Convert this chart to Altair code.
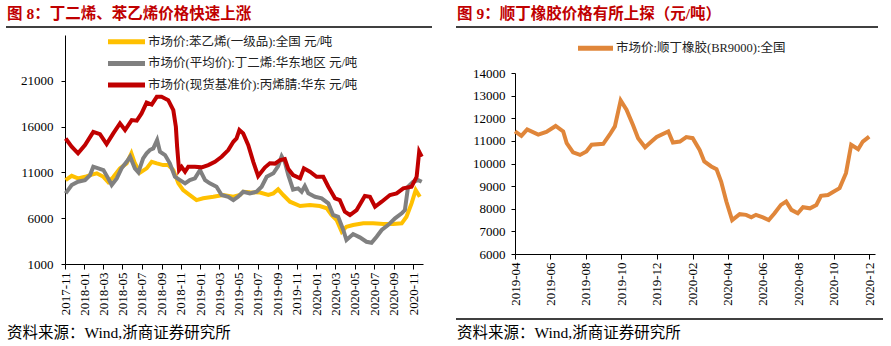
import altair as alt
import pandas as pd

# ---------------- data: left panel (元/吨) ----------------
styrene_dates = ["2017-11-03", "2017-11-22", "2017-12-12", "2018-01-03", "2018-01-19", "2018-02-09",
                 "2018-03-02", "2018-03-17", "2018-04-02", "2018-04-23", "2018-05-14", "2018-05-29",
                 "2018-06-09", "2018-06-25", "2018-07-16", "2018-08-01", "2018-08-17", "2018-09-06",
                 "2018-09-22", "2018-10-08", "2018-10-24", "2018-11-08", "2018-11-29", "2018-12-20",
                 "2019-01-10", "2019-02-11", "2019-03-14", "2019-04-15", "2019-05-06", "2019-05-16",
                 "2019-06-06", "2019-07-08", "2019-08-03", "2019-08-19", "2019-09-03", "2019-09-19",
                 "2019-10-10", "2019-11-11", "2019-12-12", "2020-01-12", "2020-02-03", "2020-02-18",
                 "2020-03-05", "2020-03-21", "2020-04-05", "2020-04-26", "2020-05-28", "2020-06-28",
                 "2020-07-30", "2020-08-30", "2020-09-26", "2020-10-11", "2020-10-27", "2020-11-09",
                 "2020-11-22"]
styrene_vals = [10160, 10630, 10350, 10520, 10710, 10900,
                10520, 9950, 10490, 11440, 11990, 13080,
                11990, 10980, 11440, 12160, 11990, 11800,
                11800, 11255, 9800, 9070, 8530, 7980,
                8170, 8340, 8530, 8340, 8530, 8890,
                8840, 8800, 8530, 8710, 9150, 8530,
                7800, 7330, 7440, 7330, 7080, 6350,
                5800, 4520, 5070, 5250, 5440, 5440,
                5360, 5360, 5440, 6160, 7620, 9070,
                8340]

butadiene_dates = ["2017-11-03", "2017-11-22", "2017-12-12", "2018-01-03", "2018-01-19", "2018-01-29",
                   "2018-02-14", "2018-03-02", "2018-03-17", "2018-03-28", "2018-04-13", "2018-04-28",
                   "2018-05-14", "2018-05-25", "2018-06-09", "2018-06-20", "2018-07-05", "2018-07-16",
                   "2018-07-26", "2018-08-06", "2018-08-18", "2018-08-27", "2018-09-12", "2018-09-27",
                   "2018-10-13", "2018-10-29", "2018-11-14", "2018-11-29", "2018-12-15", "2018-12-31",
                   "2019-01-16", "2019-01-31", "2019-02-21", "2019-03-09", "2019-03-30", "2019-04-15",
                   "2019-04-30", "2019-05-16", "2019-06-06", "2019-06-27", "2019-07-13", "2019-07-29",
                   "2019-08-19", "2019-09-03", "2019-09-14", "2019-09-24", "2019-10-05", "2019-10-20",
                   "2019-11-05", "2019-11-16", "2019-11-26", "2019-12-07", "2019-12-28", "2020-01-18",
                   "2020-02-08", "2020-02-23", "2020-03-10", "2020-03-26", "2020-04-05", "2020-04-26",
                   "2020-05-17", "2020-06-07", "2020-06-23", "2020-07-09", "2020-07-25", "2020-08-14",
                   "2020-09-05", "2020-09-26", "2020-10-06", "2020-10-16", "2020-11-01", "2020-11-17",
                   "2020-11-28"]
butadiene_vals = [8710, 9620, 9980, 10160, 10710, 11620,
                  11440, 11255, 10350, 9620, 10350, 11440,
                  12160, 12710, 11440, 11000, 12530, 13080,
                  13440, 13620, 14530, 13250, 12890, 11990,
                  10520, 10160, 9800, 10160, 10350, 11255,
                  10160, 9800, 9430, 8530, 8340, 7980,
                  8340, 8890, 8710, 8890, 9430, 10520,
                  10900, 11690, 12750, 12130, 10710, 9130,
                  9260, 8890, 9510, 8710, 8340, 8170,
                  7620, 6350, 6160, 4710, 3620, 4270,
                  3910, 3430, 3320, 3980, 4710, 5250,
                  5990, 6530, 6890, 9430, 9980, 10160,
                  9980]

acn_dates = ["2017-11-03", "2017-11-22", "2017-12-12", "2018-01-03", "2018-01-29", "2018-02-19",
             "2018-03-12", "2018-04-02", "2018-04-23", "2018-05-09", "2018-05-30", "2018-06-15",
             "2018-06-30", "2018-07-16", "2018-08-01", "2018-08-17", "2018-09-01", "2018-09-22",
             "2018-10-08", "2018-10-16", "2018-10-20", "2018-10-26", "2018-11-03", "2018-11-14",
             "2018-11-24", "2018-12-15", "2019-01-05", "2019-01-26", "2019-02-16", "2019-03-09",
             "2019-03-30", "2019-04-15", "2019-04-25", "2019-05-04", "2019-05-16", "2019-06-01",
             "2019-06-17", "2019-07-02", "2019-07-23", "2019-08-08", "2019-08-24", "2019-09-09",
             "2019-09-24", "2019-10-05", "2019-10-20", "2019-11-11", "2019-11-23", "2019-12-12",
             "2020-01-02", "2020-01-23", "2020-02-08", "2020-02-29", "2020-03-15", "2020-03-31",
             "2020-04-16", "2020-05-07", "2020-06-02", "2020-06-18", "2020-07-04", "2020-07-25",
             "2020-08-20", "2020-09-10", "2020-10-01", "2020-10-27", "2020-11-12", "2020-11-20",
             "2020-11-28"]
acn_vals = [14700, 13800, 13080, 13980, 15430, 15180,
            14090, 15260, 16350, 15620, 16710, 16650,
            17440, 18620, 18400, 19250, 19250, 18890,
            17800, 15980, 13800, 11255, 11615, 11070,
            11615, 11615, 11550, 11800, 12160, 12710,
            13440, 14340, 14700, 15620, 15260, 13980,
            12130, 10600, 11530, 11990, 11960, 12350,
            12460, 11360, 10710, 10350, 11440, 11070,
            10520, 10520, 9430, 8170, 7980, 6710,
            6350, 6890, 8420, 8340, 7250, 7800,
            8530, 8710, 9260, 9430, 10520, 13250,
            12710]

left_names = ["市场价:苯乙烯(一级品):全国 元/吨",
              "市场价(平均价):丁二烯:华东地区 元/吨",
              "市场价(现货基准价):丙烯腈:华东 元/吨"]
left_colors = ["#FFC000", "#808080", "#C00000"]
left_y_ticks = [1000, 6000, 11000, 16000, 21000]
left_x_ticks = ["2017-11", "2018-01", "2018-03", "2018-05", "2018-07", "2018-09", "2018-11",
                "2019-01", "2019-03", "2019-05", "2019-07", "2019-09", "2019-11",
                "2020-01", "2020-03", "2020-05", "2020-07", "2020-09", "2020-11"]

# ---------------- data: right panel (元/吨) ----------------
br_dates = ["2019-04-01", "2019-04-12", "2019-04-22", "2019-05-11", "2019-05-25", "2019-06-10",
            "2019-06-23", "2019-06-29", "2019-07-10", "2019-07-22", "2019-08-02", "2019-08-11",
            "2019-08-31", "2019-09-11", "2019-09-20", "2019-09-30", "2019-10-10", "2019-10-21",
            "2019-10-30", "2019-11-11", "2019-11-22", "2019-12-01", "2019-12-21", "2019-12-29",
            "2020-01-10", "2020-01-21", "2020-02-01", "2020-02-13", "2020-02-21", "2020-03-04",
            "2020-03-13", "2020-03-21", "2020-03-30", "2020-04-09", "2020-04-22", "2020-05-03",
            "2020-05-12", "2020-05-20", "2020-06-01", "2020-06-11", "2020-06-21", "2020-07-02",
            "2020-07-11", "2020-07-20", "2020-07-31", "2020-08-09", "2020-08-21", "2020-09-01",
            "2020-09-09", "2020-09-21", "2020-09-29", "2020-10-11", "2020-10-22", "2020-10-31",
            "2020-11-12", "2020-11-20", "2020-12-01"]
br_vals = [11420, 11220, 11510, 11280, 11400, 11660,
           11420, 10900, 10490, 10380, 10530, 10830,
           10870, 11270, 11640, 12790, 12380, 11710,
           11120, 10720, 10970, 11170, 11420, 10930,
           10970, 11170, 11120, 10600, 10090, 9870,
           9750, 9200, 8320, 7500, 7760, 7730,
           7620, 7730, 7620, 7500, 7800, 8170,
           8320, 7950, 7800, 8070, 8020, 8170,
           8570, 8610, 8730, 8910, 9570, 10830,
           10630, 10970, 11190]
br_name = "市场价:顺丁橡胶(BR9000):全国"
br_color = "#E0863A"
right_y_ticks = [6000, 7000, 8000, 9000, 10000, 11000, 12000, 13000, 14000]
right_x_ticks = ["2019-04", "2019-06", "2019-08", "2019-10", "2019-12", "2020-02",
                 "2020-04", "2020-06", "2020-08", "2020-10", "2020-12"]

title_left = "图 8：丁二烯、苯乙烯价格快速上涨"
title_right = "图 9：顺丁橡胶价格有所上探（元/吨）"
source_text = "资料来源：Wind,浙商证券研究所"

# ---------------- styling ----------------
FONT = "Liberation Serif, Noto Sans CJK SC"
TITLE_RED = "#C00000"


def dt(s, day=1):
    y, m = s.split("-")[:2]
    return alt.DateTime(year=int(y), month=int(m), date=day, utc=True)


def one():
    return alt.Data(values=[{"k": 0}])


def text_layer(txt, x, y, size, color="black", weight="normal", font=FONT):
    return alt.Chart(one()).mark_text(
        text=txt, align="left", baseline="middle", fontSize=size, font=font,
        fontWeight=weight, color=color
    ).encode(x=alt.value(x), y=alt.value(y))


def hline(x1, x2, y, color="black", width=1.2, opacity=1.0):
    return alt.Chart(one()).mark_rule(color=color, strokeWidth=width, opacity=opacity).encode(
        x=alt.value(x1), x2=alt.value(x2), y=alt.value(y)
    )


def frame(x1, y1, x2, y2):
    return alt.Chart(one()).mark_rule(opacity=0, strokeWidth=0.01).encode(
        x=alt.value(x1), x2=alt.value(x2), y=alt.value(y1), y2=alt.value(y2)
    )


def x_axis(ticks):
    return alt.Axis(values=[dt(t) for t in ticks],
                    labelExpr="utcFormat(datum.value, '%Y-%m')",
                    labelAngle=-90, labelFont=FONT, labelFontSize=13, labelColor="black",
                    tickSize=5, tickColor="black", domainColor="black", labelPadding=3,
                    grid=False, title=None, labelOverlap=False)


def y_axis(ticks, pad):
    return alt.Axis(values=ticks, labelFont=FONT, labelFontSize=13, labelColor="black",
                    tickSize=4, tickColor="black", domainColor="black", labelPadding=pad,
                    grid=False, title=None, format="d")


# Both panels share the same plot origin (window y = 35)

# ---------------- left panel ----------------
W1, H1 = 358, 229
xs_left = alt.Scale(type="utc", domain=[dt("2017-11"), dt("2020-12", 2)])
ys_left = alt.Scale(domain=[1000, 26000], nice=False, zero=False)

left_series = [(styrene_dates, styrene_vals), (butadiene_dates, butadiene_vals), (acn_dates, acn_vals)]
left_layers = [frame(-65, -35, 380, 311)]
for i, (dates, vals) in enumerate(left_series):
    df = pd.DataFrame({"date": dates, "value": vals})
    left_layers.append(alt.Chart(df).mark_line(color=left_colors[i], strokeWidth=4).encode(
        x=alt.X("date:T", scale=xs_left, axis=x_axis(left_x_ticks)),
        y=alt.Y("value:Q", scale=ys_left, axis=y_axis(left_y_ticks, 8)),
    ))

for i, (name, col) in enumerate(zip(left_names, left_colors)):
    yy = 6.7 + 21.7 * i
    left_layers.append(hline(43, 80, yy, color=col, width=5))
    left_layers.append(text_layer(name, 83, yy, 12.5, color="#222222"))

left_layers.append(text_layer(title_left, -58, -21, 15.5, color=TITLE_RED, weight="bold"))
left_layers.append(hline(-59, 367, -8, width=1.5))
left_layers.append(text_layer(source_text, -58, 298, 15.5))

left = alt.layer(*left_layers).properties(width=W1, height=H1)

# ---------------- right panel ----------------
W2, H2 = 360, 219
xs_right = alt.Scale(type="utc", domain=[dt("2019-04"), dt("2020-12", 11)])
ys_right = alt.Scale(domain=[6000, 14000], nice=False, zero=False, range=[H2, 38])

br_df = pd.DataFrame({"date": br_dates, "value": br_vals})
right_layers = [frame(-70, -35, 376, 311)]
right_layers.append(alt.Chart(br_df).mark_line(color=br_color, strokeWidth=4).encode(
    x=alt.X("date:T", scale=xs_right, axis=x_axis(right_x_ticks)),
    y=alt.Y("value:Q", scale=ys_right, axis=y_axis(right_y_ticks, 6)),
))
right_layers.append(hline(63, 98, 13.3, color=br_color, width=5))
right_layers.append(text_layer(br_name, 101, 13.3, 12.5, color="#222222"))
right_layers.append(text_layer(title_right, -58, -21, 15.5, color=TITLE_RED, weight="bold"))
right_layers.append(hline(-59, 363, -8, width=1.5))
right_layers.append(hline(-59, 368, 284, width=1.5))
right_layers.append(text_layer(source_text, -58, 298, 15.5))

right = alt.layer(*right_layers).properties(width=W2, height=H2)

chart = alt.hconcat(left, right, spacing=0).properties(
    padding=0, background="white"
).configure_view(stroke=None)

chart.save("out.html", embed_options={"renderer": "svg", "actions": False})
